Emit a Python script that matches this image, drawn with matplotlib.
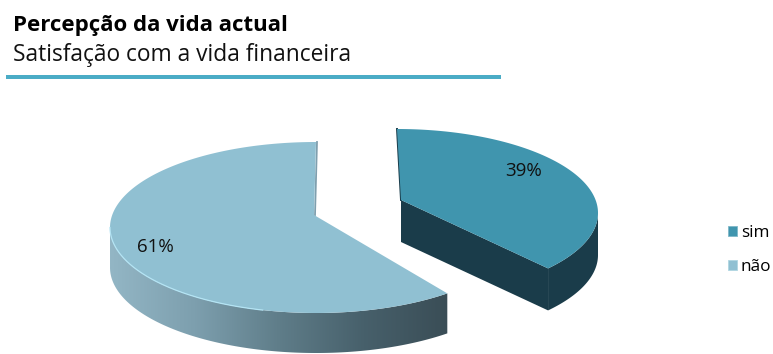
import numpy as np
import matplotlib
matplotlib.use("Agg")
import matplotlib.pyplot as plt
from matplotlib.colors import LinearSegmentedColormap
from matplotlib.patches import Polygon, Patch

title = "Percepção da vida actual"
subtitle = "Satisfação com a vida financeira"
categories = ["sim", "não"]
values = [39, 61]
labels = ["39%", "61%"]

FONT = "Open Sans"
top_colors = ["#4095ae", "#90c0d2"]
dark_side = "#1a3c4a"

fig = plt.figure(figsize=(7.73, 3.54), dpi=100)
ax = fig.add_axes([0, 0, 1, 1])
ax.set_xlim(0, 773)
ax.set_ylim(354, 0)
ax.axis("off")


def arc(cx, cy, a, b, t0, t1, n=200):
    t = np.radians(np.linspace(t0, t1, n))
    return np.column_stack([cx + a * np.sin(t), cy - b * np.cos(t)])


# --- "não" slice (counter-clockwise from 12 o'clock)
cx, cy, a, b, depth = 316, 227.5, 206, 85.5, 40
apex = np.array([314, 215])
sweep = 360 * values[1] / sum(values)
rim_vis = arc(cx, cy, a, b, -90, -sweep)
side = np.vstack([rim_vis, (rim_vis + [0, depth])[::-1]])
cmap = LinearSegmentedColormap.from_list(
    "rim", ["#93b6c5", "#7d9fae", "#5f7d89", "#47606b", "#3a4d56"])
im = ax.imshow(np.linspace(0, 1, 256)[None, :], cmap=cmap, aspect="auto",
               extent=(110, 449, 354, 220), zorder=2)
clip = Polygon(side, closed=True, transform=ax.transData, fc="none", ec="none")
ax.add_patch(clip)
im.set_clip_path(clip)
ax.set_xlim(0, 773)
ax.set_ylim(354, 0)
rim = arc(cx, cy, a, b, 0, -sweep)
ax.add_patch(Polygon(np.vstack([apex, rim]), closed=True, fc=top_colors[1],
                     ec="none", zorder=3))
start = rim[0]
ax.plot([start[0] + 1, apex[0] + 1], [start[1], apex[1]], color="#7f9fae",
        lw=1.3, zorder=2.5)
hl = arc(cx, cy, a, b, -90, -165)
ax.plot(hl[:, 0], hl[:, 1], color="#b4e4f4", lw=0.9, zorder=3.5)

# --- "sim" slice (clockwise from 12 o'clock, foreshortened by the 3D view)
cx, cy, a, b, depth = 397, 213, 201, 84, 42
apex = np.array([401, 200])
sweep = 360 * values[0] / sum(values) * 0.935
rim_vis = arc(cx, cy, a, b, 90, sweep)
side = np.vstack([rim_vis, (rim_vis + [0, depth])[::-1]])
ax.add_patch(Polygon(side, closed=True, fc=dark_side, ec="none", zorder=2))
rim = arc(cx, cy, a, b, 0, sweep)
tip = rim[-1]
face = np.array([apex, tip, tip + [0, depth], apex + [0, depth]])
ax.add_patch(Polygon(face, closed=True, fc=dark_side, ec="none", zorder=2))
ax.add_patch(Polygon(np.vstack([apex, rim]), closed=True, fc=top_colors[0],
                     ec="none", zorder=3))
start = rim[0]
ax.plot([start[0], apex[0]], [start[1], apex[1]], color=dark_side, lw=1.4, zorder=2.5)

# --- data labels
ax.text(524, 171, labels[0], ha="center", va="center", fontsize=13.5,
        family=FONT, color="#111111", zorder=5)
ax.text(155, 247, labels[1], ha="center", va="center", fontsize=13.5,
        family=FONT, color="#111111", zorder=5)

# --- header
ax.text(13, 26, title, ha="left", va="center", fontsize=16, fontweight="bold",
        family=FONT, color="#000000")
ax.text(13, 55, subtitle, ha="left", va="center", fontsize=16.4,
        family=FONT, color="#111111")
ax.fill_between([6, 501], 74.5, 79, color="#4bacc6", lw=0)

# --- legend
handles = [Patch(fc=top_colors[0], ec="#7fb8c8", lw=0.6),
           Patch(fc=top_colors[1], ec="#b0d6e2", lw=0.6)]
ax.legend(handles, categories, loc="center left", bbox_to_anchor=(728 / 773, 1 - 250 / 354),
          bbox_transform=fig.transFigure, frameon=False, handlelength=0.52,
          handleheight=0.52, handletextpad=0.22, labelspacing=1.05, borderpad=0,
          borderaxespad=0, prop={"family": FONT, "size": 12.3})

fig.savefig("out.png", dpi=100)
